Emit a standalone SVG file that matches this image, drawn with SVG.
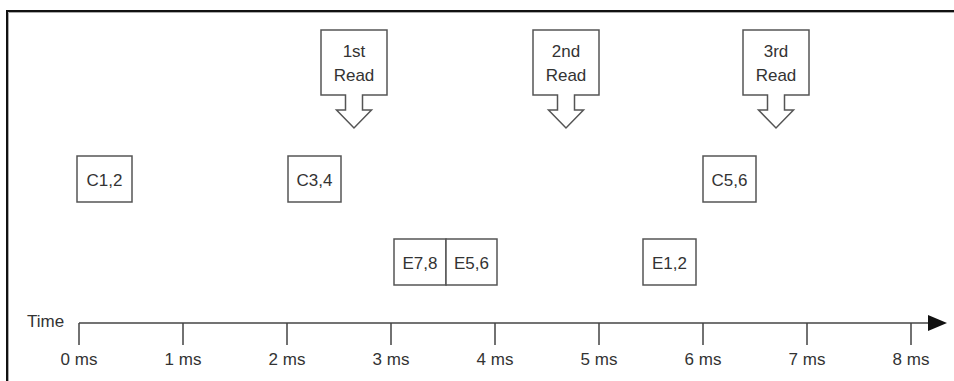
<svg xmlns="http://www.w3.org/2000/svg" width="954" height="381" viewBox="0 0 954 381">
<style>
text{font-family:"Liberation Sans",Arial,Helvetica,sans-serif;fill:#333;font-size:17px}
.c{text-anchor:middle}
.box{fill:#fff;stroke:#555;stroke-width:1.5}
.ln{stroke:#444;stroke-width:1.5;fill:none}
</style>
<defs>
<marker id="ah" markerWidth="20" markerHeight="16" refX="0" refY="8" orient="auto" markerUnits="userSpaceOnUse">
<path d="M0,0 L19,8 L0,16 Z" fill="#111"/>
</marker>
</defs>
<rect width="954" height="381" fill="#fff"/>
<g id="frame">
<path d="M7,381 V11 H954" fill="none" stroke="#111" stroke-width="2"/>
<path d="M8.5,381 V12.5 H954" fill="none" stroke="#aaa" stroke-width="1"/>
</g>
<g id="read1">
<path class="box" d="M321,30 H387 V95 H362.5 V110 H371.5 L354,128 L336.5,110 H345.5 V95 H321 Z"/>
<text class="c" x="354" y="57">1st</text>
<text class="c" x="354" y="81">Read</text>
</g>
<g id="read2">
<path class="box" d="M533,30 H599 V95 H574.5 V110 H583.5 L566,128 L548.5,110 H557.5 V95 H533 Z"/>
<text class="c" x="566" y="57">2nd</text>
<text class="c" x="566" y="81">Read</text>
</g>
<g id="read3">
<path class="box" d="M743,30 H809 V95 H784.5 V110 H793.5 L776,128 L758.5,110 H767.5 V95 H743 Z"/>
<text class="c" x="776" y="57">3rd</text>
<text class="c" x="776" y="81">Read</text>
</g>
<g id="c12"><rect class="box" x="77" y="156" width="55" height="46"/><text class="c" x="104.5" y="186">C1,2</text></g>
<g id="c34"><rect class="box" x="288" y="156" width="53" height="46"/><text class="c" x="314.5" y="186">C3,4</text></g>
<g id="c56"><rect class="box" x="703" y="156" width="53" height="46"/><text class="c" x="729.5" y="186">C5,6</text></g>
<g id="e78"><rect class="box" x="394" y="239" width="52" height="46"/><text class="c" x="420" y="269">E7,8</text></g>
<g id="e56"><rect class="box" x="446" y="239" width="51" height="46"/><text class="c" x="471.5" y="269">E5,6</text></g>
<g id="e12"><rect class="box" x="643" y="239" width="53" height="46"/><text class="c" x="669.5" y="269">E1,2</text></g>
<g id="axis">
<line class="ln" x1="79" y1="323" x2="928" y2="323" marker-end="url(#ah)"/>
<path class="ln" d="M79,323 V345 M183,323 V345 M287,323 V345 M391,323 V345 M495,323 V345 M599,323 V345 M703,323 V345 M807,323 V345 M911,323 V345"/>
<text x="27" y="327">Time</text>
<text class="c" x="79" y="365">0 ms</text>
<text class="c" x="183" y="365">1 ms</text>
<text class="c" x="287" y="365">2 ms</text>
<text class="c" x="391" y="365">3 ms</text>
<text class="c" x="495" y="365">4 ms</text>
<text class="c" x="599" y="365">5 ms</text>
<text class="c" x="703" y="365">6 ms</text>
<text class="c" x="807" y="365">7 ms</text>
<text class="c" x="911" y="365">8 ms</text>
</g>
</svg>
